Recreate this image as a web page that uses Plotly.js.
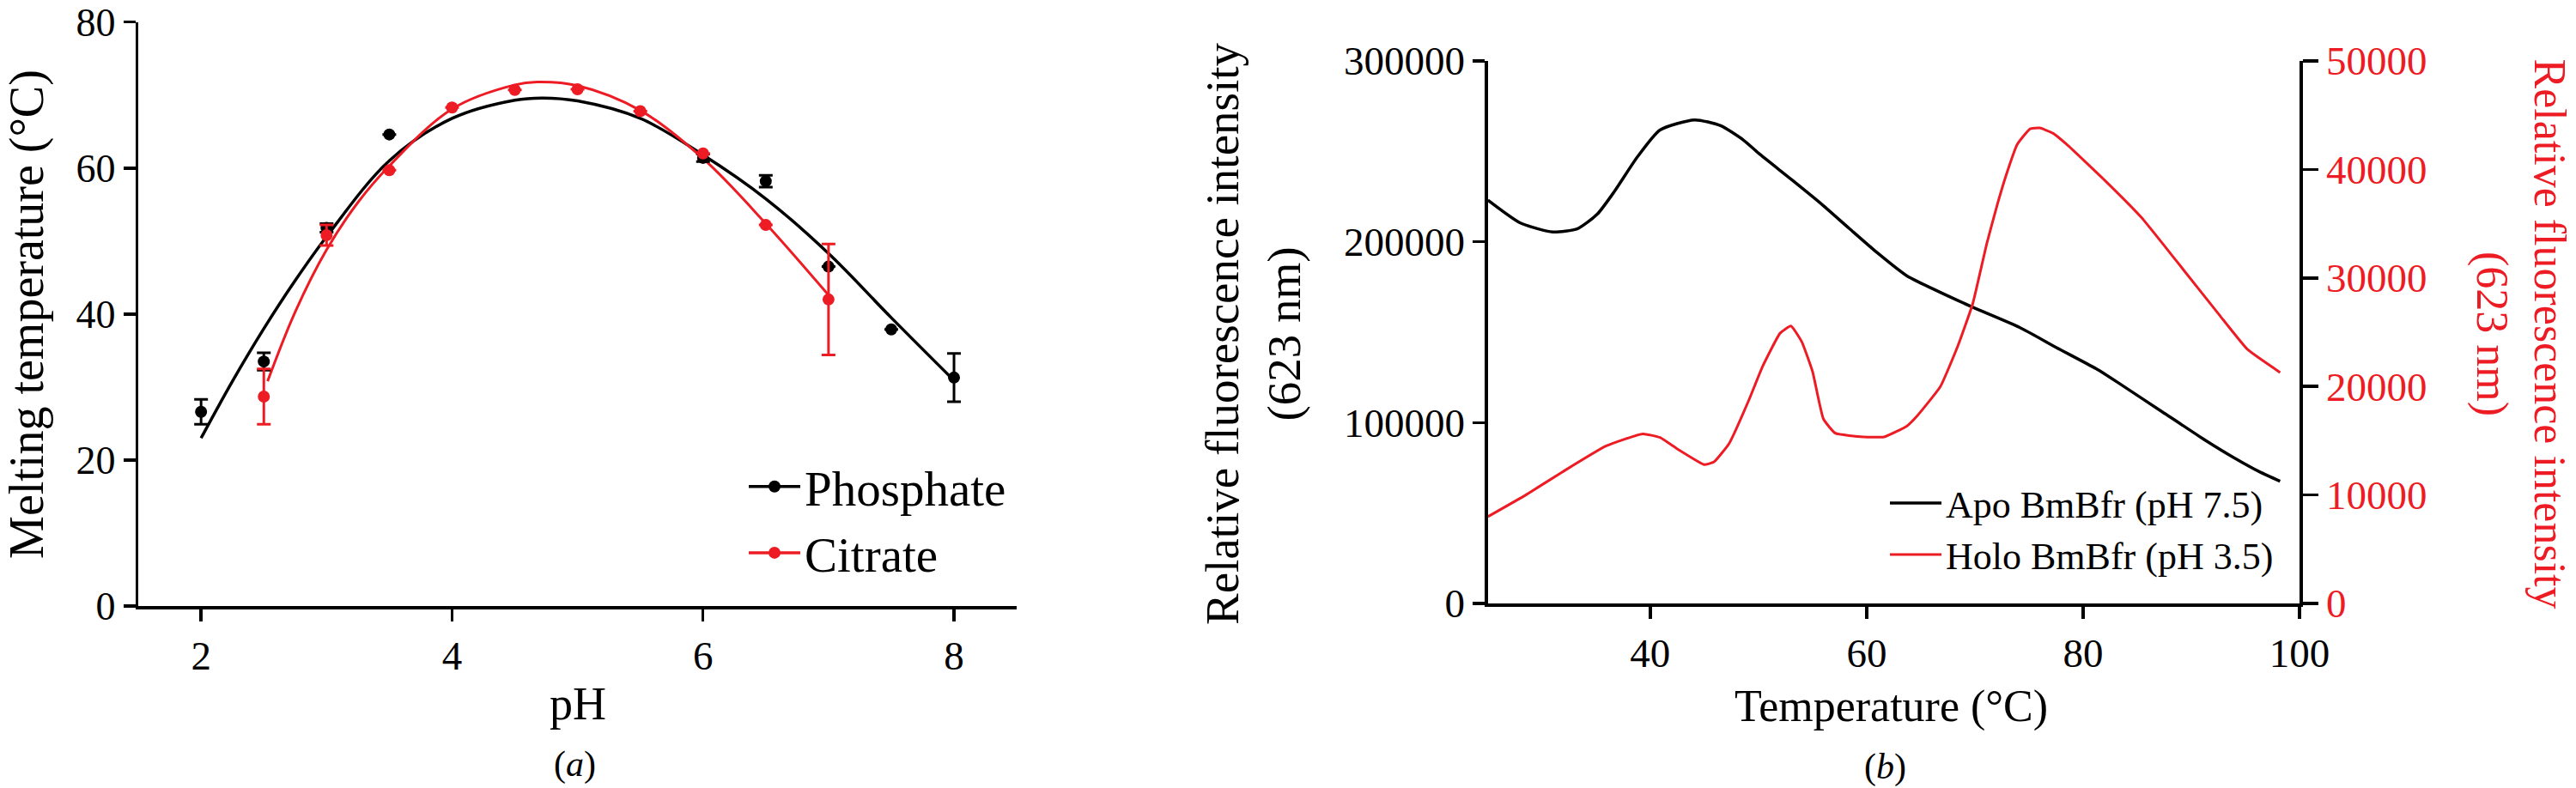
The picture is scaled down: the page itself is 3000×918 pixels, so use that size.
<!DOCTYPE html>
<html>
<head>
<meta charset="utf-8">
<script src="https://cdn.plot.ly/plotly-3.0.1.min.js"></script>
<style>
  html, body { margin: 0; padding: 0; background: #fff; }
  #chart { width: 3000px; height: 918px; }
</style>
</head>
<body>
<div id="chart"></div>
<script>
// panel (a): melting temperature vs pH
const phosX = [2, 2.5, 3, 3.5, 6, 6.5, 7, 7.5, 8];
const phosY = [26.6, 33.5, 51.8, 64.6, 61.4, 58.2, 46.5, 37.9, 31.3];
const phosErr = [1.7, 1.2, 0.6, 0, 0.5, 0.8, 0, 0, 3.3];
const citX = [2.5, 3, 3.5, 4, 4.5, 5, 5.5, 6, 6.5, 7];
const citY = [28.7, 50.8, 59.7, 68.3, 70.7, 70.8, 67.8, 62.0, 52.2, 42.0];
const citErr = [3.8, 1.4, 0, 0, 0, 0, 0, 0, 0, 7.6];

// fitted curves
const phosFitX = [2, 2.25, 2.5, 2.75, 3, 3.5, 4, 4.5, 4.72, 5, 5.5, 6, 6.5, 7, 7.5, 8];
const phosFitY = [23.0, 30.8, 38.0, 44.6, 50.6, 61.0, 66.8, 69.3, 69.6, 69.2, 66.8, 61.8, 55.8, 48.3, 39.5, 30.9];
const citFitX = [2.53, 2.75, 3, 3.25, 3.5, 4, 4.5, 4.68, 5, 5.5, 6, 6.5, 7];
const citFitY = [30.8, 40.3, 48.8, 55.3, 60.3, 68.1, 71.4, 71.8, 71.3, 67.9, 61.3, 52.4, 42.6];

// panel (b): fluorescence vs temperature
const apoT = [25, 28, 31, 33.3, 35.1, 36.7, 38.8, 40.9, 44.1, 46.5, 48.6, 50, 53.1, 55.7, 58.4, 61, 63.7, 66.1, 69.8, 74.1, 77.5, 81.2, 83.3, 87.3, 91.3, 93.9, 96.3, 98.2];
const apoF = [223000, 210400, 205400, 207300, 215200, 227900, 246800, 261800, 267400, 264200, 256300, 249000, 234200, 221500, 207300, 193800, 181200, 174000, 163800, 152700, 141600, 129800, 121800, 106000, 90200, 80700, 72800, 67600];
const holoT = [25, 28.5, 31.9, 35.9, 39.3, 40.9, 42.5, 45.0, 45.9, 47.3, 49.1, 50.4, 52.0, 53.0, 54.0, 55.0, 56.0, 57.1, 59.7, 61.6, 63.7, 64.7, 66.8, 68.4, 69.8, 71.1, 72.1, 72.9, 73.9, 75.1, 76.0, 77.2, 78.5, 82.0, 85.4, 88.6, 92.6, 95.2, 98.2];
const holoF = [8000, 10000, 12130, 14500, 15630, 15290, 14240, 12790, 13050, 14760, 18710, 21880, 24910, 25570, 24120, 21360, 17010, 15690, 15350, 15350, 16340, 17330, 19970, 23670, 27630, 33180, 36870, 39520, 42290, 43740, 43820, 43340, 42290, 38990, 35550, 31590, 26570, 23400, 21290];

const RED = '#ed1c24';
const FONT = 'Liberation Serif, Times New Roman, serif';

function errBar(arr, color) {
	return { type: 'data', array: arr, visible: true, color: color, thickness: 3, width: 8 };
}

const traces = [
	{ x: phosFitX, y: phosFitY, mode: 'lines', line: { color: '#000', width: 3.5, shape: 'spline' }, showlegend: false, xaxis: 'x', yaxis: 'y' },
	{ x: citFitX, y: citFitY, mode: 'lines', line: { color: RED, width: 3, shape: 'spline' }, showlegend: false, xaxis: 'x', yaxis: 'y' },
	{ x: phosX, y: phosY, mode: 'markers', marker: { color: '#000', size: 14 }, error_y: errBar(phosErr, '#000'), showlegend: false, xaxis: 'x', yaxis: 'y' },
	{ x: citX, y: citY, mode: 'markers', marker: { color: RED, size: 14 }, error_y: errBar(citErr, RED), showlegend: false, xaxis: 'x', yaxis: 'y' },
	// legend entries for panel (a)
	{ x: [null], y: [null], mode: 'lines+markers', name: 'Phosphate', line: { color: '#000', width: 3.5 }, marker: { color: '#000', size: 14 }, xaxis: 'x', yaxis: 'y', legend: 'legend' },
	{ x: [null], y: [null], mode: 'lines+markers', name: 'Citrate', line: { color: RED, width: 3.5 }, marker: { color: RED, size: 14 }, xaxis: 'x', yaxis: 'y', legend: 'legend' },
	// panel (b)
	{ x: apoT, y: apoF, mode: 'lines', name: 'Apo BmBfr (pH 7.5)', line: { color: '#000', width: 3.5, shape: 'spline', smoothing: 0.6 }, xaxis: 'x2', yaxis: 'y3', legend: 'legend2' },
	{ x: holoT, y: holoF, mode: 'lines', name: 'Holo BmBfr (pH 3.5)', line: { color: RED, width: 3, shape: 'spline', smoothing: 0.4 }, xaxis: 'x2', yaxis: 'y4', legend: 'legend2' },
];

const axisBase = {
	showline: true,
	linecolor: '#000',
	linewidth: 3.5,
	ticks: 'outside',
	tickcolor: '#000',
	tickwidth: 3.5,
	ticklen: 14,
	showgrid: false,
	zeroline: false,
	fixedrange: true,
	ticklabeloverflow: 'allow',
};

function note(text, x, y, size, extra) {
	return Object.assign({
		text: text, xref: 'paper', yref: 'paper', x: x, y: y,
		xanchor: 'center', yanchor: 'middle', showarrow: false,
		font: { family: FONT, size: size, color: '#000' },
	}, extra || {});
}

const layout = {
	width: 3000,
	height: 918,
	margin: { l: 0, r: 0, t: 0, b: 0 },
	paper_bgcolor: '#fff',
	plot_bgcolor: '#fff',
	font: { family: FONT, color: '#000' },
	xaxis: { ...axisBase, domain: [0.0537, 0.3947], range: [1.5, 8.5], tickvals: [2, 4, 6, 8], anchor: 'y', tickfont: { family: FONT, size: 47 } },
	yaxis: { ...axisBase, domain: [0.2309, 0.972], range: [0, 80], tickvals: [0, 20, 40, 60, 80], anchor: 'x', tickfont: { family: FONT, size: 46 } },
	xaxis2: { ...axisBase, domain: [0.5776, 0.8927], range: [25, 100], tickvals: [40, 60, 80, 100], anchor: 'y3', tickfont: { family: FONT, size: 47 } },
	yaxis3: { ...axisBase, domain: [0.2342, 0.9227], range: [0, 300000], tickvals: [0, 100000, 200000, 300000], tickformat: 'd', anchor: 'x2', tickfont: { family: FONT, size: 47 } },
	yaxis4: { ...axisBase, domain: [0.2342, 0.9227], range: [0, 50000], tickvals: [0, 10000, 20000, 30000, 40000, 50000], tickformat: 'd', anchor: 'x2', overlaying: 'y3', side: 'right', ticklen: 18, tickfont: { family: FONT, size: 47, color: RED } },
	legend: {
		x: 0.289, y: 0.43, xanchor: 'left', yanchor: 'top',
		bgcolor: 'rgba(0,0,0,0)', font: { family: FONT, size: 57 }, itemwidth: 60, tracegroupgap: 0,
	},
	legend2: {
		x: 0.732, y: 0.40, xanchor: 'left', yanchor: 'top',
		bgcolor: 'rgba(0,0,0,0)', font: { family: FONT, size: 44 }, itemwidth: 60,
	},
	annotations: [
		note('Melting temperature (°C)', 0.0103, 0.6013, 56, { textangle: -90 }),
		note('pH', 0.2243, 0.1068, 54),
		note('(<i>a</i>)', 0.223, 0.0305, 42),
		note('Relative fluorescence intensity<br>(623 nm)', 0.4867, 0.5763, 55, { textangle: -90 }),
		note('Relative fluorescence intensity<br>(623 nm)', 0.9785, 0.5763, 52, { textangle: 90, font: { family: FONT, size: 52, color: RED } }),
		note('Temperature (°C)', 0.734, 0.1035, 52),
		note('(<i>b</i>)', 0.7317, 0.027, 42),
	],
};

Plotly.newPlot('chart', traces, layout, { displayModeBar: false, staticPlot: true });
</script>
</body>
</html>
